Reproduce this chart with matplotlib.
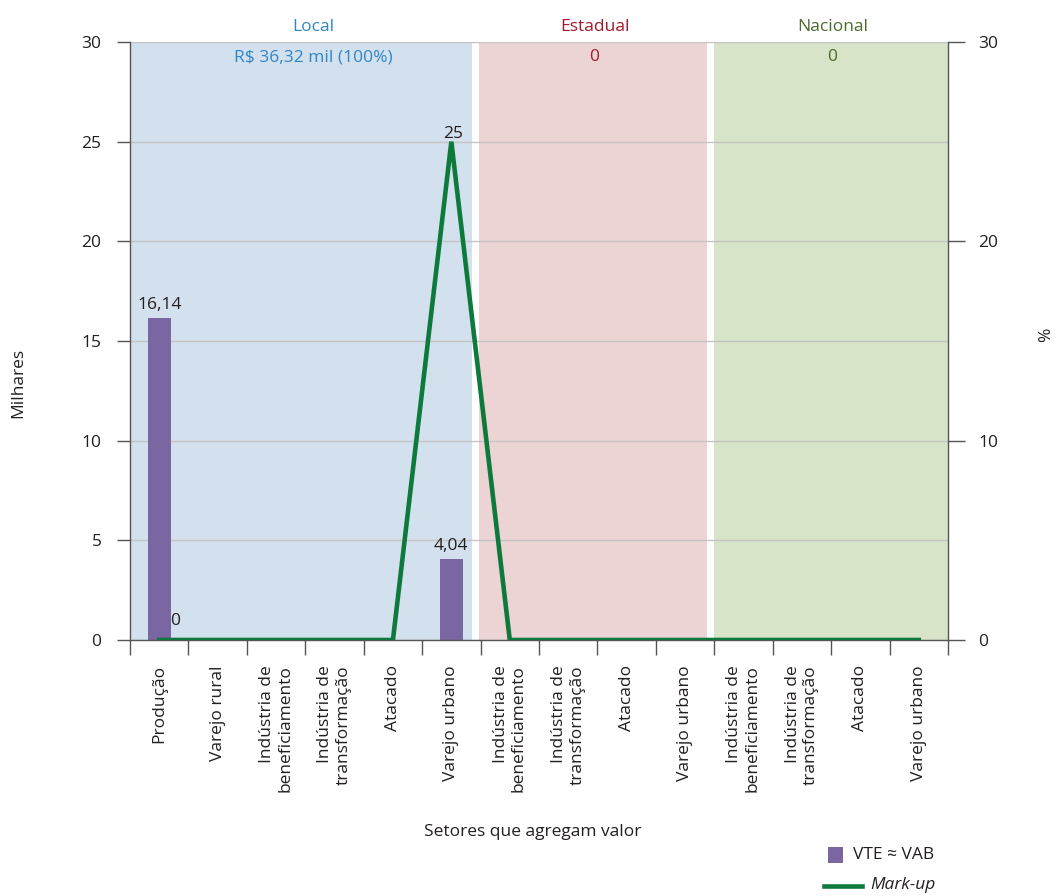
import matplotlib
matplotlib.use("Agg")
import matplotlib.pyplot as plt
from matplotlib.patches import Rectangle
from matplotlib.lines import Line2D

plt.rcParams['font.family'] = ['Open Sans', 'DejaVu Sans']

# Sectors along the value chain (three market levels)
categories = [
    "Produção", "Varejo rural", "Indústria de\nbeneficiamento",
    "Indústria de\ntransformação", "Atacado", "Varejo urbano",
    "Indústria de\nbeneficiamento", "Indústria de\ntransformação",
    "Atacado", "Varejo urbano",
    "Indústria de\nbeneficiamento", "Indústria de\ntransformação",
    "Atacado", "Varejo urbano",
]
# VTE ≈ VAB (thousand R$), only sectors with value
vab_idx = [0, 5]
vab_values = [16.14, 4.04]
vab_labels = ["16,14", "4,04"]
# Mark-up (%) for every sector
markup = [0, 0, 0, 0, 0, 25, 0, 0, 0, 0, 0, 0, 0, 0]
markup_labels = ["0", None, None, None, None, "25", None, None, None, None, None, None, None, None]

# Market levels: name and subtitle
levels = ["Local", "Estadual", "Nacional"]
level_values = ["R$ 36,32 mil (100%)", "0", "0"]

left_ticks = [0, 5, 10, 15, 20, 25, 30]
right_ticks = [0, 10, 20, 30]

BAR = "#7a66a1"
LINE = "#0d7a3b"
BG = ["#d3e0ed", "#ecd3d4", "#d7e4c7"]
TXT = ["#2e86c9", "#a0192d", "#4a6a2b"]
DARK = "#231f20"
AXC = "#555555"
FS = 12.5

fig = plt.figure(figsize=(10.57, 8.96), dpi=100)
W, H = 1057, 896
ax = fig.add_axes([130 / W, 1 - 640 / H, (948 - 130) / W, (640 - 42) / H])
ax.set_xlim(0, len(categories))
ax.set_ylim(0, 30)

# Shaded market-level bands with small white gaps between them
band_starts = [0.0, 5.97, 10.0]
band_ends = [5.85, 9.87, 14.0]
for s, e, c in zip(band_starts, band_ends, BG):
    ax.axvspan(s, e, color=c, lw=0, zorder=0)

ax.set_axisbelow(True)
ax.yaxis.grid(True, color="#c4c4c4", lw=1.0)
ax.set_yticks(left_ticks)

centers = [i + 0.5 for i in range(len(categories))]
ax.bar([centers[i] for i in vab_idx], vab_values, width=0.4, color=BAR, zorder=2)
for i, v, lab in zip(vab_idx, vab_values, vab_labels):
    ax.annotate(lab, (centers[i], v), xytext=(0, 4), textcoords="offset points",
                ha="center", va="bottom", fontsize=FS, color=DARK)

# Category boundaries as ticks, names at centers
ax.set_xticks(range(len(categories) + 1))
ax.set_xticklabels([])
ax.set_xticks(centers, minor=True)
ax.set_xticklabels(categories, minor=True, rotation=90, ha="center", va="top",
                   multialignment="right", fontsize=FS, color=DARK)
ax.tick_params(axis="x", which="major", direction="out", length=10.5, width=1, color=AXC)
ax.tick_params(axis="x", which="minor", length=0, pad=18)
ax.tick_params(axis="y", direction="out", length=9.5, width=1, color=AXC,
               pad=11, labelsize=FS, labelcolor=DARK)

for s in ["top", "right"]:
    ax.spines[s].set_visible(False)
for s in ["left", "bottom"]:
    ax.spines[s].set_color(AXC)
    ax.spines[s].set_linewidth(1)

ax.set_ylabel("Milhares", fontsize=FS, color=DARK)
ax.yaxis.set_label_coords((18 - 130) / 818, 0.43)
ax.yaxis.label.set_va("center")
ax.set_xlabel("Setores que agregam valor", fontsize=FS, color=DARK)
ax.xaxis.set_label_coords((533 - 130) / 818, (640 - 832) / 598)
ax.xaxis.label.set_va("center")

# Market-level headings
level_x = [3.13, 7.95, 12.02]
for name, val, x, c in zip(levels, level_values, level_x, TXT):
    ax.annotate(name, (x, 30), xytext=(0, 11), textcoords="offset points",
                ha="center", va="center", fontsize=FS, color=c)
    ax.annotate(val, (x, 30), xytext=(0, -11), textcoords="offset points",
                ha="center", va="center", fontsize=FS, color=c)

# Mark-up on the right axis
ax2 = ax.twinx()
ax2.set_ylim(0, 30)
ax2.set_yticks(right_ticks)
ax2.plot(centers, markup, color=LINE, lw=3.3, solid_joinstyle="miter", zorder=3)
label_offsets = {0: (11.5, 8), 5: (1.5, 0)}
for k, (x, v, lab) in enumerate(zip(centers, markup, markup_labels)):
    if lab is not None:
        ax2.annotate(lab, (x, v), xytext=label_offsets.get(k, (8, 4)),
                     textcoords="offset points",
                     ha="center", va="bottom", fontsize=FS, color=DARK)
for s in ["top", "left", "bottom"]:
    ax2.spines[s].set_visible(False)
ax2.spines["right"].set_color(AXC)
ax2.spines["right"].set_linewidth(1)
ax2.tick_params(axis="y", direction="out", length=12, width=1, color=AXC,
                pad=10, labelsize=FS, labelcolor=DARK)
ax2.set_ylabel("%", fontsize=FS, color=DARK, rotation=90)
ax2.yaxis.set_label_coords((1046 - 130) / 818, 0.51)
ax2.yaxis.label.set_va("center")

# Legend keys
fig.add_artist(Rectangle((828 / W, 1 - 863 / H), 15 / W, 16 / H,
                         transform=fig.transFigure, color=BAR, lw=0))
fig.text(853 / W, 1 - 855 / H, "VTE ≈ VAB", fontsize=FS, color=DARK, va="center")
fig.add_artist(Line2D([824 / W, 862 / W], [1 - 886 / H, 1 - 886 / H],
                      transform=fig.transFigure, color=LINE, lw=3.3))
fig.text(870 / W, 1 - 885 / H, "Mark-up", fontsize=FS, color=DARK, va="center",
         style="italic")

fig.savefig("out.png", dpi=100)
